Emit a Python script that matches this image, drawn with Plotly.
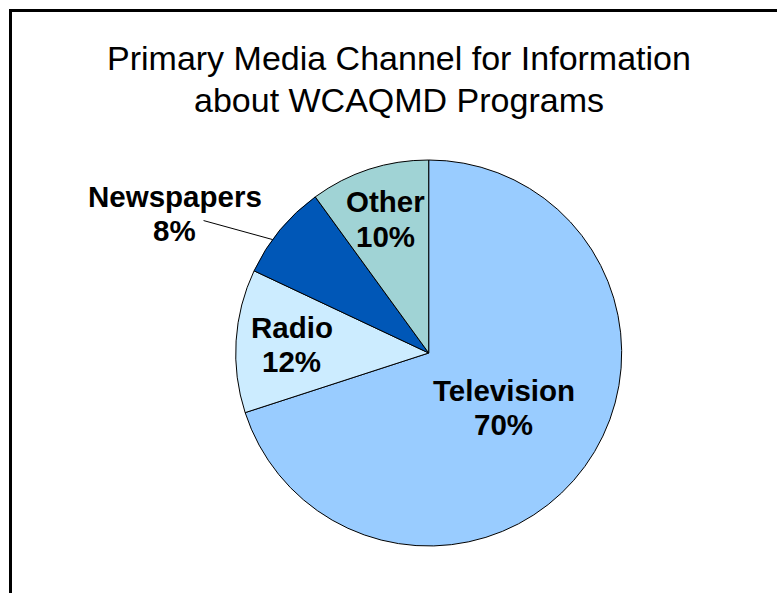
import math
import plotly.graph_objects as go

# Survey results: primary media channel
categories = ["Television", "Radio", "Newspapers", "Other"]
shares = [70, 12, 8, 10]
slice_colors = ["#99CCFF", "#CCECFF", "#0057B7", "#A0D3D5"]

title_lines = ["Primary Media Channel for Information", "about WCAQMD Programs"]

W, H = 777, 593
CX, CY, R = 428.7, 353.0, 193.0  # pie centre and radius in pixels
LABEL_GAP = 34.4  # distance between the two lines of a slice label
TITLE_GAP = 41.7


def px(x, y):
    """Convert pixel position (origin top-left) to paper coordinates."""
    return x / W, 1 - y / H


fig = go.Figure(
    go.Pie(
        labels=categories,
        values=shares,
        sort=False,
        direction="clockwise",
        rotation=0,
        textinfo="none",
        hoverinfo="label+percent",
        marker=dict(colors=slice_colors, line=dict(color="#000000", width=1)),
        domain=dict(
            x=[(CX - R) / W, (CX + R) / W],
            y=[1 - (CY + R) / H, 1 - (CY - R) / H],
        ),
        showlegend=False,
    )
)

# slice angles, clockwise from 12 o'clock
total = sum(shares)
starts, spans = [], []
acc = 0.0
for v in shares:
    starts.append(acc / total * 360.0)
    spans.append(v / total * 360.0)
    acc += v

font_family = "Liberation Sans, Arial, sans-serif"
label_font = dict(family=font_family, size=29.5, color="#000000")
inside_radius = {"Television": 0.48, "Radio": 0.71, "Other": 0.73}

annotations = []
shapes = []


def add_text_block(lines, cx, cy, gap, font, bold):
    """Centre a stack of text lines on (cx, cy) with a fixed line gap."""
    n = len(lines)
    for i, line in enumerate(lines):
        y = cy + (i - (n - 1) / 2) * gap
        xx, yy = px(cx, y)
        annotations.append(dict(text=f"<b>{line}</b>" if bold else line,
                                x=xx, y=yy, xref="paper", yref="paper",
                                xanchor="center", yanchor="middle",
                                showarrow=False, font=font))


for name, v, a0, span in zip(categories, shares, starts, spans):
    lines = [name, f"{round(v / total * 100)}%"]
    if name in inside_radius:
        mid = math.radians(a0 + span / 2)
        r = inside_radius[name] * R
        lx, ly = CX + r * math.sin(mid), CY - r * math.cos(mid)
    else:
        # outside label with a leader line from the slice edge
        ang = math.radians(a0 + span * 0.375)
        ex, ey = CX + R * math.sin(ang), CY - R * math.cos(ang)
        x0, y0 = px(ex, ey)
        x1, y1 = px(ex - 69, ey - 19)
        shapes.append(dict(type="line", xref="paper", yref="paper",
                           x0=x0, y0=y0, x1=x1, y1=y1,
                           line=dict(color="#000000", width=1)))
        lx, ly = ex - 98, ey - 26
    add_text_block(lines, lx, ly, LABEL_GAP, label_font, True)

# chart title
add_text_block(title_lines, 399, 58 + TITLE_GAP / 2, TITLE_GAP,
               dict(family=font_family, size=34, color="#000000"), False)

# chart-area frame
fx, fy = px(10.5, 10.5)
shapes.append(dict(type="rect", xref="paper", yref="paper",
                   x0=fx, y0=-0.2, x1=1.2, y1=fy,
                   line=dict(color="#000000", width=3), fillcolor="rgba(0,0,0,0)"))

fig.update_layout(
    width=W, height=H,
    margin=dict(l=0, r=0, t=0, b=0),
    paper_bgcolor="#FFFFFF",
    plot_bgcolor="#FFFFFF",
    annotations=annotations,
    shapes=shapes,
)

fig.write_html("out.html")
